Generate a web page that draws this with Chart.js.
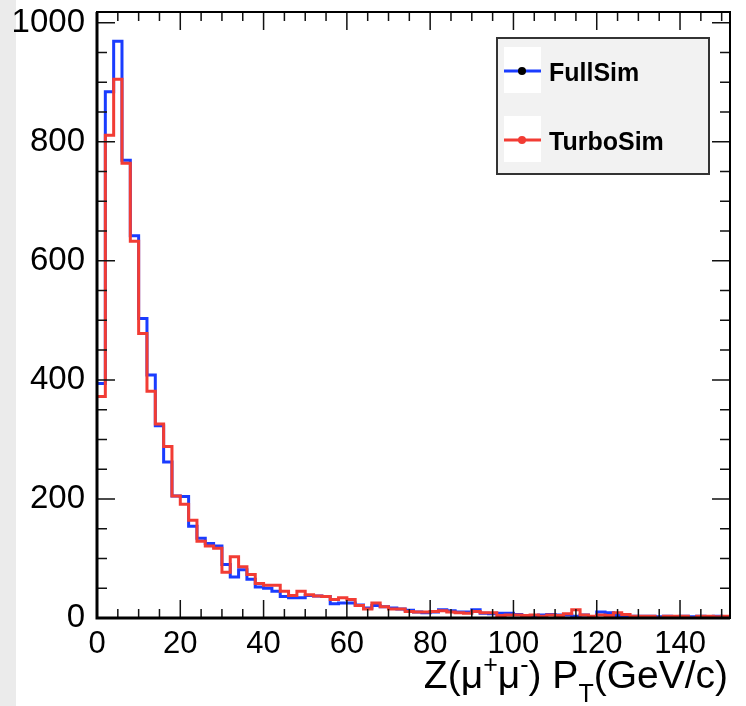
<!DOCTYPE html>
<html>
<head>
<meta charset="utf-8">
<title>Z pT FullSim vs TurboSim</title>
<script src="https://cdn.jsdelivr.net/npm/chart.js@4.4.1/dist/chart.umd.min.js"></script>
<style>
    html, body { margin: 0; padding: 0; background: #fff; }
    .page { position: relative; width: 746px; height: 706px; background: #fff; overflow: hidden; }
    .strip { position: absolute; left: 0; top: 0; width: 16px; height: 706px; background: #ebebeb; }
    #ptChart { position: absolute; left: 0; top: 0; }
</style>
</head>
<body>
<div class="page">
    <div class="strip"></div>
    <canvas id="ptChart" width="746" height="706"></canvas>
</div>
<script>
// histogram binning (GeV/c)
const binWidth = 2;
const xMax = 152;
const yMax = 1018;

const xTickLabels = [0, 20, 40, 60, 80, 100, 120, 140];
const yTickLabels = [0, 200, 400, 600, 800, 1000];

// entries per 2 GeV/c bin
const fullSim = [
    394, 884, 969, 769, 642, 503, 408, 323, 262, 205,
    204, 154, 134, 125, 121, 90, 69, 81, 65, 52,
    50, 45, 36, 34, 34, 38, 37, 36, 24, 25,
    25, 22, 17, 21, 19, 17, 15, 13, 10, 9,
    10, 14, 12, 10, 10, 14, 8, 7, 8, 8,
    6, 3, 4, 5, 6, 5, 5, 3, 5, 2,
    10, 9, 4, 2, 3, 3, 3, 2, 3, 2,
    3, 2, 3, 2, 3, 2
];
const turboSim = [
    372, 811, 905, 764, 633, 478, 381, 326, 288, 205,
    191, 164, 129, 121, 117, 77, 103, 86, 73, 58,
    55, 55, 45, 38, 45, 39, 37, 36, 31, 34,
    31, 21, 15, 25, 19, 15, 15, 11, 10, 10,
    11, 12, 10, 9, 8, 11, 9, 9, 4, 5,
    5, 4, 5, 3, 5, 4, 7, 14, 5, 3,
    5, 4, 9, 6, 3, 3, 3, 0, 3, 3,
    3, 0, 3, 3, 2, 3
];

const FONT = "'Liberation Sans', Arial, Helvetica, sans-serif";
const BLUE = '#1a3cff';
const RED = '#f23c34';

// bin contents -> points at the left bin edges, plus the closing right edge
function toSteps(values) {
    const pts = values.map((v, i) => ({ x: i * binWidth, y: v }));
    pts.push({ x: values.length * binWidth, y: values[values.length - 1] });
    return pts;
}

// ROOT style frame: inward ticks on all four sides, legend box, axis title
const rootFrame = {
    id: 'rootFrame',
    afterDraw(chart) {
        const ctx = chart.ctx;
        const area = chart.chartArea;
        const xs = chart.scales.x;
        const ys = chart.scales.y;
        ctx.save();

        // ticks
        ctx.strokeStyle = '#111';
        ctx.lineWidth = 1.5;
        ctx.beginPath();
        for (let v = 0; v <= xMax; v += 5) {
            const px = xs.getPixelForValue(v);
            const len = v % 20 === 0 ? 18 : 9;
            ctx.moveTo(px, area.bottom); ctx.lineTo(px, area.bottom - len);
            ctx.moveTo(px, area.top); ctx.lineTo(px, area.top + len);
        }
        for (let v = 0; v <= yMax; v += 50) {
            const py = ys.getPixelForValue(v);
            const len = v % 200 === 0 ? 18 : 10;
            ctx.moveTo(area.left, py); ctx.lineTo(area.left + len, py);
            ctx.moveTo(area.right, py); ctx.lineTo(area.right - len, py);
        }
        ctx.stroke();

        // frame
        ctx.strokeStyle = '#000';
        ctx.lineWidth = 2;
        ctx.strokeRect(area.left, area.top, area.right - area.left, area.bottom - area.top);
        ctx.lineWidth = 3;
        ctx.beginPath();
        ctx.moveTo(area.left, area.top);
        ctx.lineTo(area.left, area.bottom);
        ctx.lineTo(area.right, area.bottom);
        ctx.stroke();

        // legend
        ctx.fillStyle = '#f2f2f2';
        ctx.fillRect(497, 38, 212, 136);
        ctx.strokeStyle = '#333';
        ctx.lineWidth = 2;
        ctx.strokeRect(497, 38, 212, 136);
        const entries = [
            { label: 'FullSim', color: BLUE, marker: '#000', y: 47 },
            { label: 'TurboSim', color: RED, marker: RED, y: 116 }
        ];
        entries.forEach(e => {
            ctx.fillStyle = '#fff';
            ctx.fillRect(504, e.y, 37, 46);
            ctx.strokeStyle = e.color;
            ctx.lineWidth = 3;
            ctx.beginPath();
            ctx.moveTo(504, e.y + 24);
            ctx.lineTo(541, e.y + 24);
            ctx.stroke();
            ctx.fillStyle = e.marker;
            ctx.beginPath();
            ctx.arc(522, e.y + 24, 4, 0, Math.PI * 2);
            ctx.fill();
            ctx.fillStyle = '#000';
            ctx.font = 'bold 25px ' + FONT;
            ctx.textAlign = 'left';
            ctx.textBaseline = 'alphabetic';
            ctx.fillText(e.label, 549, e.y + 34);
        });

        // x axis title, right aligned
        const big = '39px ' + FONT;
        const small = '25px ' + FONT;
        const parts = [
            ['Z(\u03bc', big, 0],
            ['+', small, -15],
            ['\u03bc', big, 0],
            ['-', small, -15],
            [') P', big, 0],
            ['T', small, 14],
            ['(GeV/c)', big, 0]
        ];
        let total = 0;
        parts.forEach(p => { ctx.font = p[1]; p.push(ctx.measureText(p[0]).width); total += p[3]; });
        let tx = 728 - total;
        ctx.fillStyle = '#000';
        ctx.textAlign = 'left';
        ctx.textBaseline = 'alphabetic';
        parts.forEach(p => {
            ctx.font = p[1];
            ctx.fillText(p[0], tx, 688 + p[2]);
            tx += p[3];
        });

        ctx.restore();
    }
};

const ctx = document.getElementById('ptChart').getContext('2d');
new Chart(ctx, {
    type: 'line',
    data: {
        datasets: [
            {
                label: 'TurboSim',
                data: toSteps(turboSim),
                borderColor: RED,
                borderWidth: 3,
                stepped: 'before',
                pointRadius: 0,
                fill: false,
                order: 0
            },
            {
                label: 'FullSim',
                data: toSteps(fullSim),
                borderColor: BLUE,
                borderWidth: 3,
                stepped: 'before',
                pointRadius: 0,
                fill: false,
                order: 1
            }
        ]
    },
    options: {
        responsive: false,
        animation: false,
        devicePixelRatio: 1,
        layout: { padding: { left: 0, right: 16, top: 12, bottom: 0 } },
        plugins: {
            legend: { display: false },
            tooltip: { enabled: false }
        },
        scales: {
            x: {
                type: 'linear',
                min: 0,
                max: xMax,
                grid: { display: false },
                border: { display: false },
                ticks: {
                    color: '#000',
                    font: { family: FONT, size: 31 },
                    padding: 0,
                    maxRotation: 0,
                    autoSkip: false,
                    callback: v => String(v)
                },
                afterBuildTicks: s => { s.ticks = xTickLabels.map(v => ({ value: v })); },
                afterFit: s => { s.height = 88; s.paddingLeft = 0; s.paddingRight = 0; }
            },
            y: {
                min: 0,
                max: yMax,
                grid: { display: false },
                border: { display: false },
                ticks: {
                    color: '#000',
                    font: { family: FONT, size: 33 },
                    padding: 4,
                    autoSkip: false,
                    callback: v => String(v)
                },
                afterBuildTicks: s => { s.ticks = yTickLabels.map(v => ({ value: v })); },
                afterFit: s => { s.width = 97; s.paddingTop = 0; s.paddingBottom = 0; }
            }
        }
    },
    plugins: [rootFrame]
});
</script>
</body>
</html>
